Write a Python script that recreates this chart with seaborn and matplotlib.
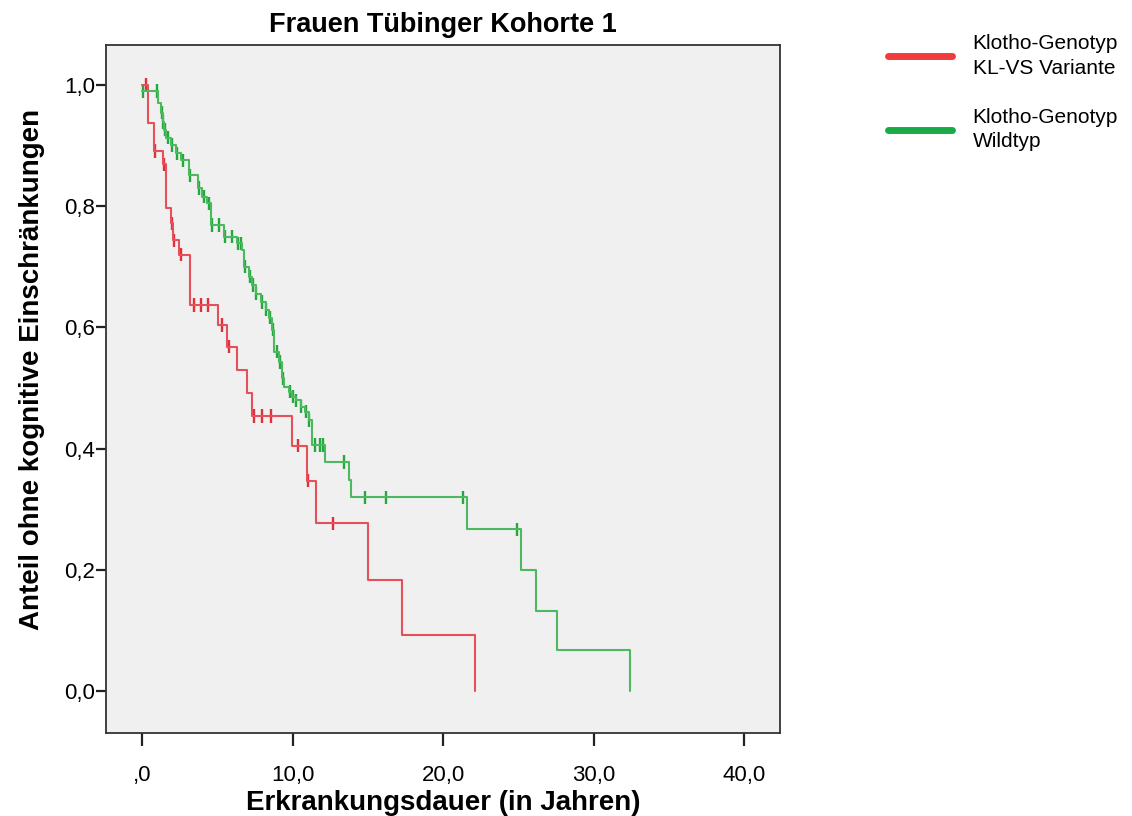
import numpy as np
import pandas as pd
import seaborn as sns
import matplotlib.pyplot as plt
from matplotlib.lines import Line2D

# Kaplan-Meier steps (time in years, survival after the drop)
red_times = [0.0, 0.42, 0.81, 1.37, 1.59, 1.92, 2.05, 2.45, 3.18, 5.03, 5.68, 6.34,
             7.00, 7.33, 9.98, 10.97, 11.59, 14.99, 17.30, 22.12]
red_surv = [1.0, 0.937, 0.891, 0.869, 0.797, 0.772, 0.744, 0.720, 0.637, 0.604, 0.568,
            0.530, 0.492, 0.454, 0.405, 0.347, 0.277, 0.184, 0.092, 0.0]
red_censor = [0.3, 0.86, 1.44, 1.98, 2.1, 2.6, 3.44, 3.9, 4.37, 5.3, 5.76,
              7.45, 8.0, 8.54, 10.38, 11.05, 12.7]

green_times = [0.0, 1.04, 1.26, 1.37, 1.48, 1.59, 1.92, 2.25, 2.58, 3.13, 3.69, 4.02,
               4.35, 4.57, 5.45, 6.34, 6.67, 6.78, 7.11, 7.33, 7.55, 7.88, 8.21, 8.43,
               8.66, 8.76, 9.09, 9.32, 9.42, 9.75, 9.98, 10.2, 10.53, 10.86, 11.08,
               11.3, 12.19, 13.73, 13.89, 21.6, 25.15, 26.16, 27.57, 32.43]
green_surv = [0.99, 0.97, 0.954, 0.939, 0.926, 0.913, 0.901, 0.887, 0.876, 0.851, 0.830,
              0.816, 0.805, 0.769, 0.750, 0.739, 0.728, 0.700, 0.684, 0.670, 0.656,
              0.642, 0.629, 0.616, 0.596, 0.560, 0.543, 0.516, 0.502, 0.494, 0.486,
              0.480, 0.469, 0.461, 0.447, 0.406, 0.378, 0.348, 0.320, 0.267, 0.200,
              0.1325, 0.068, 0.0]
green_censor = [0.05, 1.0, 1.3, 1.42, 1.55, 1.75, 2.0, 2.35, 2.7, 3.2, 3.8, 4.1, 4.45,
                4.65, 5.1, 5.5, 6.0, 6.4, 6.6, 6.85, 7.15, 7.4, 7.6, 7.95, 8.25, 8.5,
                8.7, 8.99, 9.15, 9.35, 9.8, 10.0, 10.25, 10.55, 10.9, 11.1, 11.52, 11.8,
                12.05, 13.4, 14.83, 16.2, 21.3, 24.9]

groups = ["Klotho-Genotyp\nKL-VS Variante", "Klotho-Genotyp\nWildtyp"]
colors = {groups[0]: "#e6505a", groups[1]: "#4cb860"}
marker_colors = {groups[0]: "#e0303a", groups[1]: "#22a83c"}
legend_colors = {groups[0]: "#f03c3c", groups[1]: "#1aaa48"}

x_ticks = [0, 10, 20, 30, 40]
x_labels = [",0", "10,0", "20,0", "30,0", "40,0"]
y_ticks = [0.0, 0.2, 0.4, 0.6, 0.8, 1.0]
y_labels = ["0,0", "0,2", "0,4", "0,6", "0,8", "1,0"]


def censor_points(times, surv, censor):
    times = np.asarray(times)
    idx = np.searchsorted(times, censor, side="right") - 1
    return np.asarray(surv)[idx]


steps = pd.concat([
    pd.DataFrame({"time": red_times, "surv": red_surv, "group": groups[0]}),
    pd.DataFrame({"time": green_times, "surv": green_surv, "group": groups[1]}),
])
marks = pd.concat([
    pd.DataFrame({"time": red_censor, "surv": censor_points(red_times, red_surv, red_censor),
                  "group": groups[0]}),
    pd.DataFrame({"time": green_censor, "surv": censor_points(green_times, green_surv, green_censor),
                  "group": groups[1]}),
])

sns.set_theme(style="white")
plt.rcParams["font.family"] = ["Liberation Sans", "DejaVu Sans"]
plt.rcParams["text.color"] = "black"
plt.rcParams["axes.labelcolor"] = "black"
plt.rcParams["xtick.color"] = "black"
plt.rcParams["ytick.color"] = "black"

fig = plt.figure(figsize=(11.32, 8.16), dpi=100)
ax = fig.add_axes([0.0936, 0.1017, 0.5954, 0.8432])
ax.set_facecolor("#f0f0f0")

sns.lineplot(data=steps, x="time", y="surv", hue="group", palette=colors,
             estimator=None, sort=False, drawstyle="steps-post", linewidth=1.5,
             legend=False, ax=ax)
sns.scatterplot(data=marks, x="time", y="surv", hue="group", palette=marker_colors,
                marker="|", s=90, linewidth=1.7, legend=False, ax=ax)

ax.set_xlim(-2.39, 42.37)
ax.set_ylim(-0.069, 1.066)
ax.set_xticks(x_ticks)
ax.set_xticklabels(x_labels)
ax.set_yticks(y_ticks)
ax.set_yticklabels(y_labels)
ax.tick_params(axis="x", bottom=True, direction="out", length=9, width=1.6, pad=14,
               labelsize=16, color="#222222")
ax.tick_params(axis="y", left=True, direction="out", length=7, width=1.6, pad=1,
               labelsize=16, color="#222222")
for spine in ax.spines.values():
    spine.set_color("#333333")
    spine.set_linewidth(1.3)

ax.set_title("Frauen Tübinger Kohorte 1", fontsize=19.5, fontweight="bold", pad=9)
ax.set_xlabel("Erkrankungsdauer (in Jahren)", fontsize=20, fontweight="bold", labelpad=3)
ax.set_ylabel("Anteil ohne kognitive Einschränkungen", fontsize=20, fontweight="bold")
ax.yaxis.set_label_coords(-0.09, 0.528)

handles = [Line2D([0], [0], color=legend_colors[g], lw=5) for g in groups]
leg = fig.legend(handles=handles, labels=groups, loc="upper left",
                 bbox_to_anchor=(0.777, 0.968), frameon=False, fontsize=15,
                 handlelength=3.07, handletextpad=1.0, labelspacing=1.45,
                 borderaxespad=0)
for t in leg.get_texts():
    t.set_linespacing(1.35)

fig.savefig("out.png", dpi=100)
